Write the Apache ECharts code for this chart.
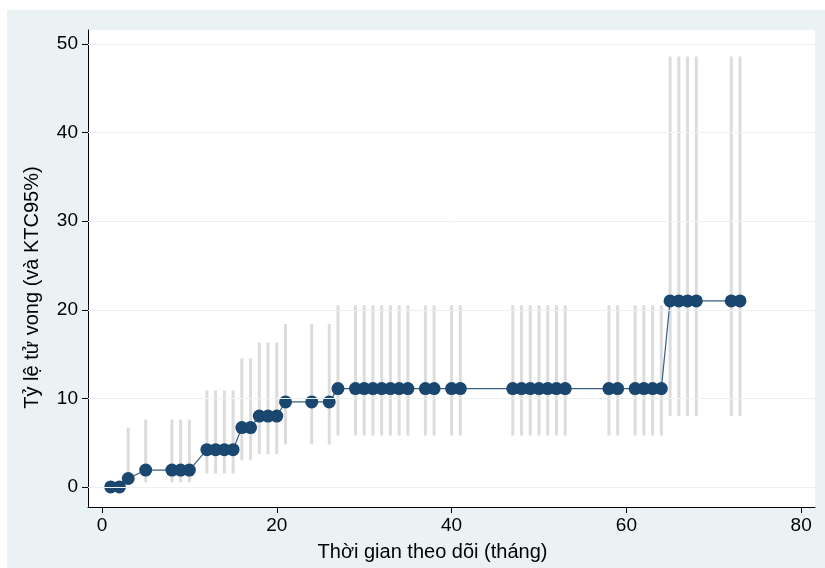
<!DOCTYPE html>
<html>
<head>
<meta charset="utf-8">
<script src="https://cdn.jsdelivr.net/npm/echarts@6/dist/echarts.min.js"></script>
<style>
html,body{margin:0;padding:0;background:#fff;}
#chart{width:825px;height:568px;}
</style>
</head>
<body>
<div id="chart"></div>
<script>
// Data
const months = [1,2,3,5,8,9,10,12,13,14,15,16,17,18,19,20,21,24,26,27,29,30,31,32,33,34,35,37,38,40,41,47,48,49,50,51,52,53,58,59,61,62,63,64,65,66,67,68,72,73];
const rate   = [0,0,0.95,1.9,1.9,1.9,1.9,4.2,4.2,4.2,4.2,6.7,6.7,8.0,8.0,8.0,9.6,9.6,9.6,11.1,11.1,11.1,11.1,11.1,11.1,11.1,11.1,11.1,11.1,11.1,11.1,11.1,11.1,11.1,11.1,11.1,11.1,11.1,11.1,11.1,11.1,11.1,11.1,11.1,21.0,21.0,21.0,21.0,21.0,21.0];
const lower  = [0,0,0.2,0.5,0.5,0.5,0.5,1.5,1.5,1.5,1.5,3.0,3.0,3.7,3.7,3.7,4.8,4.8,4.8,5.8,5.8,5.8,5.8,5.8,5.8,5.8,5.8,5.8,5.8,5.8,5.8,5.8,5.8,5.8,5.8,5.8,5.8,5.8,5.8,5.8,5.8,5.8,5.8,5.8,8.0,8.0,8.0,8.0,8.0,8.0];
const upper  = [0,0,6.7,7.6,7.6,7.6,7.6,10.9,10.9,10.9,10.9,14.5,14.5,16.3,16.3,16.3,18.4,18.4,18.4,20.5,20.5,20.5,20.5,20.5,20.5,20.5,20.5,20.5,20.5,20.5,20.5,20.5,20.5,20.5,20.5,20.5,20.5,20.5,20.5,20.5,20.5,20.5,20.5,20.5,48.6,48.6,48.6,48.6,48.6,48.6];
const xTicks = [0,20,40,60,80];
const yTicks = [0,10,20,30,40,50];
const xTitle = 'Thời gian theo dõi (tháng)';
const yTitle = 'Tỷ lệ tử vong (và KTC95%)';

const chart = echarts.init(document.getElementById('chart'));
const FONT = 'Liberation Sans, Arial, sans-serif';
const ciData = months.map((m, i) => [m, lower[i], upper[i]]);
const ptData = months.map((m, i) => [m, rate[i]]);

chart.setOption({
  backgroundColor: '#ffffff',
  animation: false,
  graphic: [{
    type: 'rect', z: -10, silent: true,
    shape: {x: 7, y: 10, width: 825, height: 568},
    style: {fill: '#eaf2f3'}
  }],
  grid: {
    left: 88, right: 10, top: 30, bottom: 61,
    show: true, backgroundColor: '#ffffff', borderWidth: 0
  },
  xAxis: {
    type: 'value', min: -1.6, max: 81.58,
    axisLine: {show: true, onZero: false, lineStyle: {color: '#000', width: 1}},
    axisTick: {show: true, length: 6, customValues: xTicks, lineStyle: {color: '#000'}},
    axisLabel: {show: true, customValues: xTicks, margin: 9, fontSize: 19, color: '#000', fontFamily: FONT},
    splitLine: {show: false},
    name: xTitle, nameLocation: 'middle', nameGap: 35,
    nameTextStyle: {fontSize: 20, color: '#000', fontFamily: FONT, padding: [0, 38, 0, 0]}
  },
  yAxis: {
    type: 'value', min: -2.27, max: 51.59,
    axisLine: {show: true, onZero: false, lineStyle: {color: '#000', width: 1}},
    axisTick: {show: true, length: 6, customValues: yTicks, lineStyle: {color: '#000'}},
    axisLabel: {show: true, customValues: yTicks, margin: 10, fontSize: 19, color: '#000', fontFamily: FONT},
    splitLine: {show: false},
    name: yTitle, nameLocation: 'middle', nameGap: 46,
    nameTextStyle: {fontSize: 20, color: '#000', fontFamily: FONT, padding: [0, 38, 0, 0]}
  },
  series: [
    {
      type: 'line', data: [], silent: true,
      markLine: {
        silent: true, symbol: 'none', label: {show: false}, animation: false,
        lineStyle: {color: '#eaf2f3', width: 1, type: 'solid'},
        data: yTicks.map(v => ({yAxis: v}))
      },
      z: 1
    },
    {
      type: 'custom', z: 2, silent: true,
      data: ciData,
      renderItem: function (params, api) {
        const lo = api.value(1), hi = api.value(2);
        if (hi - lo <= 0) return null;
        const a = api.coord([api.value(0), lo]);
        const b = api.coord([api.value(0), hi]);
        return {
          type: 'line',
          shape: {x1: a[0], y1: a[1], x2: b[0], y2: b[1]},
          style: {stroke: '#dcdcdc', lineWidth: 3}
        };
      }
    },
    {
      type: 'line', z: 3, data: ptData,
      symbol: 'circle', symbolSize: 13,
      itemStyle: {color: '#1a476f'},
      lineStyle: {color: '#3a5f82', width: 1.2}
    }
  ]
});
</script>
</body>
</html>
